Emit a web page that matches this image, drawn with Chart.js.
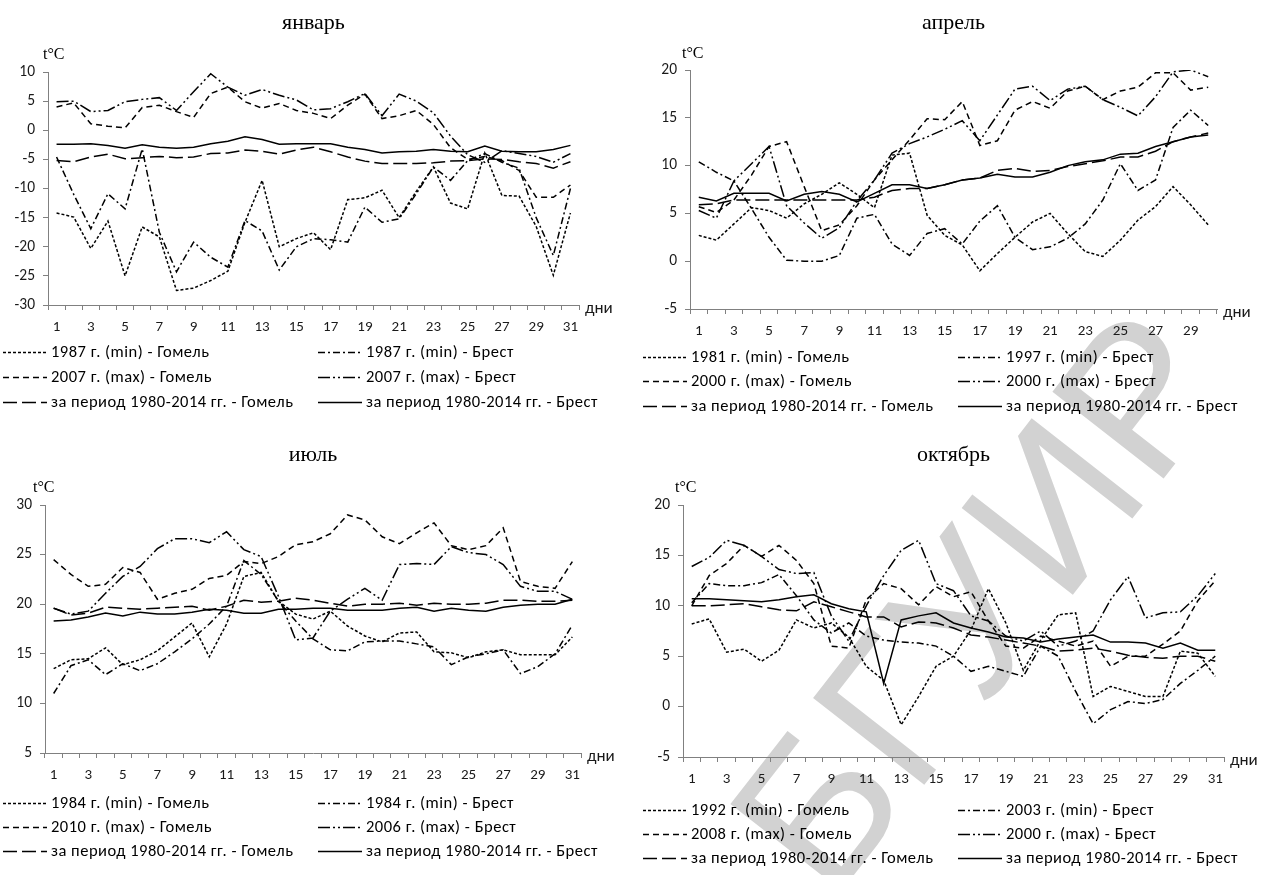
<!DOCTYPE html>
<html><head><meta charset="utf-8">
<script src="https://cdn.jsdelivr.net/npm/chart.js@4.4.1/dist/chart.umd.min.js"></script>
<style>
html,body{margin:0;padding:0;background:#fff;}
body{width:1266px;height:875px;position:relative;overflow:hidden;}
canvas{position:absolute;z-index:1;}
#wm{position:absolute;left:978px;top:600px;transform:translate(-50%,-50%) rotate(-52deg);z-index:0;
  font:205px "Liberation Sans",Arial,sans-serif;color:#d2d2d2;white-space:nowrap;pointer-events:none;line-height:1;}
</style></head><body>
<div id="wm">БГУИР</div>
<canvas id="cJan" width="633" height="437" style="left:0;top:0"></canvas>
<canvas id="cApr" width="633" height="437" style="left:633px;top:0"></canvas>
<canvas id="cJul" width="633" height="438" style="left:0;top:437px"></canvas>
<canvas id="cOct" width="633" height="438" style="left:633px;top:437px"></canvas>
<script>
// ---------- categories (days) ----------
const days31 = [1,2,3,4,5,6,7,8,9,10,11,12,13,14,15,16,17,18,19,20,21,22,23,24,25,26,27,28,29,30,31];
const days30 = [1,2,3,4,5,6,7,8,9,10,11,12,13,14,15,16,17,18,19,20,21,22,23,24,25,26,27,28,29,30];

// ---------- January ----------
const janMinGomel = [-14.2,-14.9,-20.3,-15.6,-25.0,-16.6,-18.3,-27.5,-27.1,-25.8,-24.2,-15.8,-8.6,-20.0,-18.6,-17.6,-20.5,-11.9,-11.6,-10.3,-15.0,-10.5,-6.3,-12.5,-13.5,-3.9,-11.2,-11.3,-16.5,-24.9,-14.2];
const janMinBrest = [-4.6,-11.0,-16.9,-10.9,-13.5,-3.2,-17.5,-24.3,-19.2,-21.8,-23.5,-15.5,-17.3,-24.0,-20.0,-18.6,-18.8,-19.2,-13.2,-15.8,-15.2,-10.9,-6.3,-8.6,-5.2,-4.0,-5.5,-6.5,-15.0,-21.5,-10.0];
const janMaxGomel = [4.0,4.7,1.1,0.7,0.4,3.9,4.3,3.2,2.2,6.3,7.4,4.9,3.8,4.6,3.4,2.9,2.0,4.3,6.2,2.0,2.5,3.4,1.0,-3.0,-5.0,-4.5,-5.2,-6.9,-11.5,-11.5,-9.4];
const janMaxBrest = [4.9,5.0,3.2,3.4,4.9,5.3,5.6,3.4,6.6,9.7,7.4,6.0,7.0,6.0,5.2,3.5,3.7,4.9,6.3,2.5,6.2,5.0,3.0,-1.0,-4.2,-5.5,-3.5,-4.0,-4.5,-5.5,-4.0];
const janAvgGomel = [-5.2,-5.4,-4.6,-4.1,-4.9,-4.7,-4.5,-4.7,-4.6,-4.0,-3.9,-3.4,-3.6,-4.1,-3.4,-2.9,-3.7,-4.6,-5.3,-5.7,-5.7,-5.7,-5.6,-5.3,-5.2,-4.9,-5.0,-5.4,-5.7,-6.5,-5.4];
const janAvgBrest = [-2.4,-2.4,-2.3,-2.6,-3.1,-2.5,-2.9,-3.1,-2.9,-2.3,-1.9,-1.1,-1.6,-2.4,-2.3,-2.3,-2.3,-2.9,-3.3,-3.9,-3.7,-3.6,-3.3,-3.6,-3.7,-2.7,-3.6,-3.7,-3.7,-3.3,-2.6];
const janLegend = ['1987 г. (min) - Гомель','1987 г. (min) - Брест','2007 г. (max) - Гомель','2007 г. (max) - Брест','за период 1980-2014 гг. - Гомель','за период 1980-2014 гг. - Брест'];

// ---------- April ----------
const aprMinGomel = [2.7,2.2,3.9,5.6,5.3,4.5,6.0,7.0,8.2,7.0,5.6,11.1,11.3,4.8,2.7,1.7,-1.0,0.8,2.5,4.1,5.0,2.9,1.0,0.5,2.2,4.3,5.7,7.8,5.9,3.8];
const aprMinBrest = [10.4,9.3,8.4,5.5,2.5,0.1,0.0,0.0,0.6,4.5,4.9,1.8,0.6,2.9,3.4,1.8,4.2,5.8,2.5,1.2,1.5,2.4,3.9,6.4,10.2,7.4,8.5,14.0,15.8,14.2];
const aprMaxGomel = [5.7,5.1,6.4,9.0,12.0,12.5,7.8,3.2,3.8,5.8,8.5,10.6,12.7,14.9,14.8,16.7,12.1,12.6,15.8,16.7,16.0,17.8,18.3,16.9,17.8,18.2,19.7,19.7,17.9,18.2];
const aprMaxBrest = [5.3,4.5,8.4,10.2,12.0,5.8,4.0,2.4,3.5,6.3,8.5,11.3,12.3,13.0,13.8,14.7,12.6,15.3,18.0,18.3,16.8,18.0,18.3,16.9,16.1,15.2,17.2,19.8,20.0,19.3];
const aprAvgGomel = [5.9,6.0,6.4,6.4,6.4,6.4,6.4,6.4,6.4,6.4,6.7,7.4,7.6,7.6,8.0,8.5,8.7,9.5,9.7,9.4,9.5,9.9,10.2,10.5,10.9,10.9,11.5,12.5,13.0,13.4];
const aprAvgBrest = [6.7,6.3,7.1,7.1,7.1,6.3,7.0,7.3,7.0,6.2,7.1,8.0,8.0,7.6,8.0,8.5,8.7,9.1,8.8,8.8,9.3,10.0,10.4,10.6,11.2,11.3,12.0,12.5,13.0,13.2];
const aprLegend = ['1981 г. (min) - Гомель','1997 г. (min) - Брест','2000 г. (max) - Гомель','2000 г. (max) - Брест','за период 1980-2014 гг. - Гомель','за период 1980-2014 гг. - Брест'];

// ---------- July ----------
const julMinGomel = [13.5,14.4,14.5,15.6,13.9,14.4,15.3,16.7,18.1,14.7,18.0,22.8,23.2,20.3,19.0,18.5,19.3,17.8,16.8,16.2,17.1,17.2,15.2,15.1,14.6,15.2,15.4,14.9,14.9,14.9,16.7];
const julMinBrest = [11.0,13.8,14.4,12.9,14.0,13.3,14.0,15.2,16.5,18.0,19.8,24.4,23.0,20.3,18.3,16.5,15.4,15.3,16.2,16.3,16.3,16.0,15.7,13.9,14.7,15.0,15.4,13.0,13.7,15.0,17.9];
const julMaxGomel = [24.5,23.0,21.8,22.0,23.7,23.2,20.5,21.1,21.5,22.6,22.9,24.3,24.1,24.8,26.0,26.3,27.1,29.0,28.5,26.8,26.1,27.2,28.2,25.9,25.5,25.9,27.7,22.3,21.8,21.6,24.3];
const julMaxBrest = [19.6,19.0,19.3,21.1,22.8,23.8,25.6,26.6,26.6,26.2,27.3,25.5,24.8,20.8,16.4,16.6,19.3,20.5,21.6,20.4,24.0,24.1,24.0,25.8,25.2,25.0,24.0,21.8,21.3,21.3,20.5];
const julAvgGomel = [19.6,18.9,19.1,19.7,19.6,19.5,19.6,19.7,19.8,19.4,19.8,20.4,20.2,20.3,20.6,20.4,20.1,19.8,20.0,20.0,20.1,19.9,20.1,20.0,20.0,20.1,20.4,20.4,20.3,20.3,20.4];
const julAvgBrest = [18.3,18.4,18.7,19.1,18.8,19.2,19.0,19.0,19.2,19.5,19.4,19.1,19.1,19.5,19.5,19.6,19.6,19.4,19.4,19.4,19.6,19.7,19.3,19.6,19.4,19.3,19.7,19.9,20.0,20.0,20.5];
const julLegend = ['1984 г. (min) - Гомель','1984 г. (min) - Брест','2010 г. (max) - Гомель','2006 г. (max) - Брест','за период 1980-2014 гг. - Гомель','за период 1980-2014 гг. - Брест'];

// ---------- October ----------
const octMinGomel = [8.2,8.7,5.4,5.7,4.5,5.6,8.6,7.8,8.3,6.9,4.0,2.6,-1.8,1.0,4.0,5.0,7.6,11.7,8.3,3.6,6.6,9.1,9.3,1.0,2.0,1.5,1.0,1.0,5.5,5.3,3.0];
const octMinBrest = [10.3,12.2,12.0,12.0,12.3,13.1,11.0,8.6,7.3,8.3,7.0,6.6,6.4,6.3,6.0,5.0,3.5,4.0,3.5,3.0,6.0,5.0,1.5,-1.7,-0.3,0.5,0.3,0.7,2.3,3.6,5.0];
const octMaxGomel = [10.0,13.0,14.2,16.0,14.9,16.0,14.5,12.2,6.0,5.8,10.6,12.2,11.7,10.1,11.9,10.9,11.4,8.5,6.0,5.8,7.0,6.5,6.0,6.5,4.0,5.0,5.0,6.2,7.5,10.5,12.5];
const octMaxBrest = [13.9,14.8,16.5,16.0,14.9,13.6,13.2,13.3,9.0,6.5,10.0,13.0,15.5,16.5,12.2,11.5,9.0,8.5,7.0,6.5,7.5,6.0,6.5,7.5,10.6,12.9,8.8,9.3,9.4,11.0,13.2];
const octAvgGomel = [10.0,10.0,10.1,10.2,9.9,9.6,9.5,10.4,9.9,9.4,8.9,8.9,7.9,8.4,8.3,7.8,7.1,6.9,6.6,6.3,6.0,5.5,5.6,5.8,5.5,5.1,4.9,4.8,5.0,5.0,4.5];
const octAvgBrest = [10.7,10.7,10.6,10.5,10.4,10.6,10.9,11.1,10.2,9.7,9.4,2.3,8.6,9.0,9.3,8.3,7.8,7.4,6.9,6.8,6.4,6.7,6.9,7.1,6.4,6.4,6.3,5.8,6.3,5.6,5.6];
const octLegend = ['1992 г. (min) - Гомель','2003 г. (min) - Брест','2008 г. (max) - Гомель','2000 г. (max) - Брест','за период 1980-2014 гг. - Гомель','за период 1980-2014 гг. - Брест'];

// ---------- styles ----------
const DASHES = [[3,2],[7,3,2,3],[6,4],[12,3,2,3,2,3],[14,5],[]];
const SANS = 'Carlito, Lato, "Open Sans", sans-serif';
const SERIF = '"Liberation Serif", "Times New Roman", serif';
const AXIS = '#808080';
const TXT = '#1a1a1a';

const decor = {
  id: 'decor',
  afterDraw(chart, args, o) {
    const ctx = chart.ctx, a = chart.chartArea;
    ctx.save();
    ctx.fillStyle = '#000';
    ctx.textBaseline = 'middle';
    ctx.font = '22px ' + SERIF;
    ctx.textAlign = 'center';
    ctx.fillText(o.title, (a.left + a.right) / 2, o.titleY);
    ctx.textAlign = 'left';
    ctx.font = '16px ' + SERIF;
    ctx.fillText('t°C', o.unitX, o.unitY);
    ctx.fillStyle = TXT;
    ctx.font = '17px ' + SANS;
    ctx.fillText('дни', a.right + 6, a.bottom + 4);
    // legend
    ctx.font = '16.5px ' + SANS;
    try { ctx.letterSpacing = '0.5px'; } catch (e) {}
    chart.data.datasets.forEach((ds, i) => {
      const r = Math.floor(i / 2), c = i % 2;
      const x = o.cols[c], y = o.rows[r];
      ctx.save();
      ctx.strokeStyle = '#000';
      ctx.lineWidth = 1.4;
      ctx.setLineDash(ds.borderDash || []);
      ctx.beginPath();
      ctx.moveTo(x, y + 0.5);
      ctx.lineTo(x + 44, y + 0.5);
      ctx.stroke();
      ctx.restore();
      ctx.fillStyle = '#000';
      ctx.fillText(ds.label, x + 48, y + 1);
    });
    ctx.restore();
  }
};

function makeChart(id, labels, series, legend, cfg) {
  return new Chart(document.getElementById(id), {
    type: 'line',
    data: {
      labels: labels,
      datasets: series.map((s, i) => ({
        label: legend[i], data: s, borderColor: '#000', borderWidth: 1.5,
        borderDash: DASHES[i], pointRadius: 0, tension: 0, fill: false
      }))
    },
    options: {
      responsive: false, animation: false, events: [],
      layout: { padding: cfg.pad },
      plugins: { legend: { display: false }, tooltip: { enabled: false }, title: { display: false }, decor: cfg.decor },
      scales: {
        x: {
          type: 'category', offset: true,
          grid: { offset: true, drawOnChartArea: false, drawTicks: true, tickLength: 5, color: AXIS },
          border: { color: AXIS, width: 1 },
          ticks: { autoSkip: false, maxRotation: 0, minRotation: 0, padding: 8, color: TXT,
                   font: { family: SANS, size: 15 },
                   callback: (v, i) => (i % 2 === 0 ? String(labels[i]) : '') },
          afterFit: s => { s.height = 40; }
        },
        y: {
          min: cfg.min, max: cfg.max,
          grid: { drawOnChartArea: false, drawTicks: true, tickLength: 5, color: AXIS },
          border: { color: AXIS, width: 1 },
          ticks: { stepSize: 5, padding: 8, color: TXT, font: { family: SANS, size: 15.5 } },
          afterFit: s => { s.width = cfg.yw; }
        }
      }
    },
    plugins: [decor]
  });
}

makeChart('cJan', days31, [janMinGomel, janMinBrest, janMaxGomel, janMaxBrest, janAvgGomel, janAvgBrest], janLegend, {
  min: -30, max: 10, yw: 48, pad: { left: 0, right: 54, top: 72, bottom: 92 },
  decor: { title: 'январь', titleY: 23, unitX: 43, unitY: 55, rows: [352, 377, 402], cols: [3, 318] }
});
makeChart('cApr', days30, [aprMinGomel, aprMinBrest, aprMaxGomel, aprMaxBrest, aprAvgGomel, aprAvgBrest], aprLegend, {
  min: -5, max: 20, yw: 57, pad: { left: 0, right: 49, top: 70, bottom: 88 },
  decor: { title: 'апрель', titleY: 23, unitX: 49, unitY: 54, rows: [357, 381, 406], cols: [10, 325] }
});
makeChart('cJul', days31, [julMinGomel, julMinBrest, julMaxGomel, julMaxBrest, julAvgGomel, julAvgBrest], julLegend, {
  min: 5, max: 30, yw: 45, pad: { left: 0, right: 52, top: 68, bottom: 82 },
  decor: { title: 'июль', titleY: 18, unitX: 33, unitY: 51, rows: [366, 390, 414], cols: [3, 318] }
});
makeChart('cOct', days31, [octMinGomel, octMinBrest, octMaxGomel, octMaxBrest, octAvgGomel, octAvgBrest], octLegend, {
  min: -5, max: 20, yw: 50, pad: { left: 0, right: 42, top: 68, bottom: 78 },
  decor: { title: 'октябрь', titleY: 18, unitX: 42, unitY: 51, rows: [373, 397, 421], cols: [10, 325] }
});
</script>
</body></html>
